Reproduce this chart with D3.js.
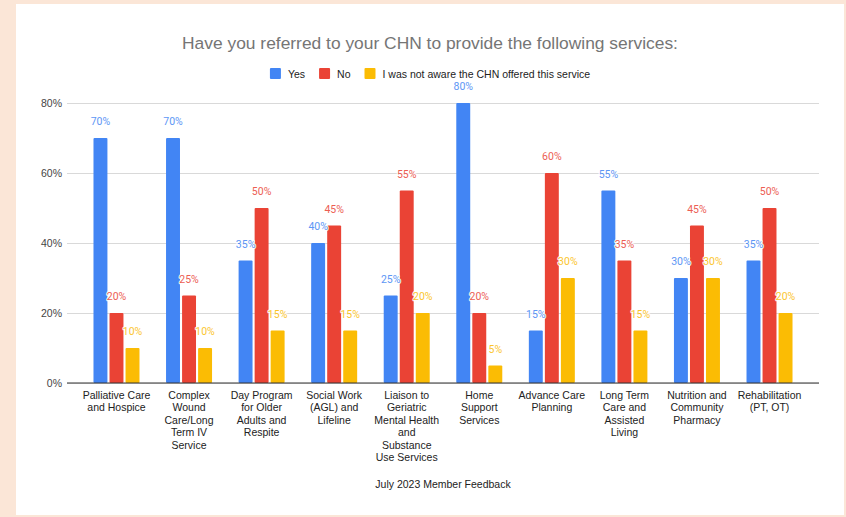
<!DOCTYPE html>
<html>
<head>
<meta charset="utf-8">
<script src="https://cdn.jsdelivr.net/npm/d3@7"></script>
<style>
  html, body { margin: 0; padding: 0; background: #fbe6d7; }
  svg { display: block; }
</style>
</head>
<body>
<svg id="chart" width="846" height="517"></svg>
<script>
// Services asked about in the survey (line breaks mark how each label wraps)
const categories = [
  "Palliative Care\nand Hospice",
  "Complex\nWound\nCare/Long\nTerm IV\nService",
  "Day Program\nfor Older\nAdults and\nRespite",
  "Social Work\n(AGL) and\nLifeline",
  "Liaison to\nGeriatric\nMental Health\nand\nSubstance\nUse Services",
  "Home\nSupport\nServices",
  "Advance Care\nPlanning",
  "Long Term\nCare and\nAssisted\nLiving",
  "Nutrition and\nCommunity\nPharmacy",
  "Rehabilitation\n(PT, OT)"
];

// Share of respondents (%) per answer
const seriesNames = ["Yes", "No", "I was not aware the CHN offered this service"];
const yesValues = [70, 70, 35, 40, 25, 80, 15, 55, 30, 35];
const noValues = [20, 25, 50, 45, 55, 20, 60, 35, 45, 50];
const unawareValues = [10, 10, 15, 15, 20, 5, 30, 15, 30, 20];
const yTicks = [0, 20, 40, 60, 80];

const colors = ["#4285f4", "#ea4335", "#fbbc04"];
const seriesValues = [yesValues, noValues, unawareValues];

const svg = d3.select("#chart");

// white card
svg.append("rect")
  .attr("x", 16).attr("y", 4)
  .attr("width", 828).attr("height", 511)
  .attr("fill", "#ffffff");

const plot = { left: 67, right: 819, top: 103, bottom: 383 };

const x = d3.scaleBand()
  .domain(categories)
  .range([plot.left, plot.right])
  .paddingInner(0.366)
  .paddingOuter(0.365);

const xSub = d3.scaleBand()
  .domain(d3.range(seriesNames.length))
  .range([0, x.bandwidth()])
  .paddingInner(0.13);

const y = d3.scaleLinear()
  .domain([0, 80])
  .range([plot.bottom, plot.top]);

const font = "Arial, 'Liberation Sans', sans-serif";
const labelSize = 10.5;

// title
svg.append("text")
  .attr("x", 430).attr("y", 49)
  .attr("text-anchor", "middle")
  .attr("font-family", font)
  .attr("font-size", 17.4)
  .attr("fill", "#757575")
  .text("Have you referred to your CHN to provide the following services:");

// legend
const legend = svg.append("g").attr("font-family", font).attr("font-size", labelSize);
const items = legend.selectAll("g").data(seriesNames).join("g");
items.append("rect")
  .attr("width", 11).attr("height", 11).attr("rx", 1)
  .attr("y", 68)
  .attr("fill", (d, i) => colors[i]);
items.append("text")
  .attr("x", 18).attr("y", 77.5)
  .attr("fill", "#222")
  .text(d => d);
let widths = [];
items.each(function () { widths.push(this.querySelector("text").getComputedTextLength() + 18); });
const gap = 14;
const total = d3.sum(widths) + gap * (widths.length - 1);
let cx = 430 - total / 2;
items.attr("transform", (d, i) => {
  const t = `translate(${cx},0)`;
  cx += widths[i] + gap;
  return t;
});

// gridlines and y axis labels
const yAxis = svg.append("g")
  .attr("transform", `translate(${plot.left},0)`)
  .call(d3.axisLeft(y).tickValues(yTicks).tickSize(-(plot.right - plot.left)).tickPadding(5).tickFormat(d => d + "%"));
yAxis.select(".domain").remove();
yAxis.selectAll(".tick line").attr("stroke", "#d9d9d9").attr("stroke-width", 1);
yAxis.selectAll(".tick text")
  .attr("font-family", font).attr("font-size", labelSize).attr("fill", "#444");

// bars
const groups = svg.append("g").selectAll("g")
  .data(categories)
  .join("g")
  .attr("transform", d => `translate(${x(d)},0)`);

groups.selectAll("rect")
  .data((d, ci) => seriesValues.map((vals, si) => ({ si, v: vals[ci] })))
  .join("rect")
  .attr("x", d => xSub(d.si))
  .attr("y", d => y(d.v))
  .attr("width", xSub.bandwidth())
  .attr("height", d => y(0) - y(d.v))
  .attr("rx", 1)
  .attr("fill", d => colors[d.si]);

// baseline
svg.append("line")
  .attr("x1", plot.left).attr("x2", plot.right)
  .attr("y1", y(0)).attr("y2", y(0))
  .attr("stroke", "#333").attr("stroke-width", 1.2);

// value labels
groups.selectAll("text.val")
  .data((d, ci) => seriesValues.map((vals, si) => ({ si, v: vals[ci] })))
  .join("text")
  .attr("class", "val")
  .attr("x", d => xSub(d.si) + xSub.bandwidth() / 2)
  .attr("y", d => y(d.v) - 13)
  .attr("text-anchor", "middle")
  .attr("font-family", "Roboto, Arial, sans-serif")
  .attr("font-size", 10.5)
  .attr("fill", d => colors[d.si])
  .attr("stroke", "#fff")
  .attr("stroke-width", 2.5)
  .attr("stroke-linejoin", "round")
  .attr("paint-order", "stroke")
  .attr("opacity", 0.85)
  .text(d => d.v + "%");

// category labels
const xl = svg.append("g").attr("font-family", font).attr("font-size", labelSize).attr("fill", "#222");
categories.forEach(c => {
  const t = xl.append("text")
    .attr("x", x(c) + x.bandwidth() / 2)
    .attr("y", 399)
    .attr("text-anchor", "middle");
  c.split("\n").forEach((line, i) => {
    t.append("tspan")
      .attr("x", x(c) + x.bandwidth() / 2)
      .attr("dy", i === 0 ? 0 : 12.4)
      .text(line);
  });
});

// x axis title
svg.append("text")
  .attr("x", (plot.left + plot.right) / 2).attr("y", 488)
  .attr("text-anchor", "middle")
  .attr("font-family", font).attr("font-size", labelSize).attr("fill", "#222")
  .text("July 2023 Member Feedback");
</script>
</body>
</html>
